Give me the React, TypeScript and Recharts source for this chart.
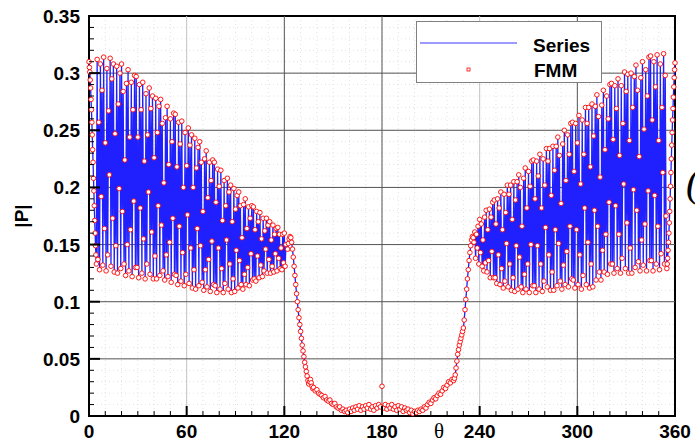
import React from "react";
import {
  ComposedChart,
  Line,
  XAxis,
  YAxis,
  CartesianGrid,
  ReferenceLine,
  ReferenceArea,
} from "recharts";

// ---------- data ----------
// column of points at the very left edge (theta close to 0)
const leftEdgeTheta = [0, 0.25, 0.5, 0.75, 1, 1.25, 1.5, 1.75, 2, 2.25, 2.5, 2.75, 3, 3.25, 3.5, 3.75, 4, 4.25, 4.5];
const leftEdgeP = [0.31, 0.305, 0.301, 0.294, 0.287, 0.277, 0.268, 0.257, 0.246, 0.233, 0.222, 0.208, 0.197, 0.184, 0.171, 0.16, 0.149, 0.141, 0.133];

// oscillating left lobe, one value every half degree from theta = 5 to 121
const leftLobeStart = 5;
const leftLobeStep = 0.5;
const leftLobeP = [
  0.312, 0.137, 0.257, 0.128, 0.308, 0.192, 0.285, 0.132, 0.314, 0.164,
  0.239, 0.127, 0.304, 0.141, 0.267, 0.211, 0.313, 0.131, 0.295, 0.173,
  0.308, 0.126, 0.247, 0.149, 0.306, 0.125, 0.273, 0.199, 0.3, 0.129,
  0.308, 0.179, 0.284, 0.133, 0.224, 0.123, 0.291, 0.15, 0.303, 0.127,
  0.244, 0.163, 0.292, 0.122, 0.268, 0.188, 0.298, 0.13, 0.297, 0.13,
  0.244, 0.121, 0.29, 0.182, 0.268, 0.125, 0.292, 0.155, 0.223, 0.12,
  0.282, 0.133, 0.246, 0.196, 0.287, 0.124, 0.269, 0.161, 0.28, 0.12,
  0.226, 0.14, 0.278, 0.12, 0.248, 0.184, 0.271, 0.123, 0.277, 0.167,
  0.256, 0.127, 0.204, 0.119, 0.261, 0.141, 0.271, 0.122, 0.22, 0.152,
  0.26, 0.117, 0.24, 0.173, 0.265, 0.124, 0.264, 0.123, 0.218, 0.115,
  0.257, 0.166, 0.238, 0.118, 0.258, 0.143, 0.2, 0.114, 0.248, 0.124,
  0.219, 0.176, 0.252, 0.116, 0.237, 0.147, 0.246, 0.112, 0.2, 0.128,
  0.243, 0.111, 0.217, 0.164, 0.235, 0.114, 0.24, 0.149, 0.222, 0.117,
  0.179, 0.11, 0.225, 0.128, 0.232, 0.113, 0.191, 0.137, 0.222, 0.109,
  0.206, 0.153, 0.224, 0.115, 0.222, 0.114, 0.187, 0.108, 0.216, 0.147,
  0.201, 0.111, 0.215, 0.129, 0.171, 0.108, 0.206, 0.116, 0.184, 0.154,
  0.208, 0.111, 0.196, 0.133, 0.202, 0.108, 0.17, 0.12, 0.199, 0.109,
  0.181, 0.145, 0.193, 0.112, 0.196, 0.136, 0.184, 0.115, 0.156, 0.111,
  0.185, 0.124, 0.19, 0.115, 0.164, 0.13, 0.183, 0.114, 0.173, 0.142,
  0.184, 0.119, 0.183, 0.12, 0.163, 0.118, 0.179, 0.14, 0.17, 0.121,
  0.178, 0.132, 0.155, 0.122, 0.173, 0.127, 0.162, 0.146, 0.173, 0.125,
  0.167, 0.137, 0.17, 0.125, 0.154, 0.131, 0.167, 0.126, 0.159, 0.142,
  0.164, 0.127, 0.165, 0.138, 0.159, 0.129, 0.147, 0.128, 0.159, 0.134,
  0.16, 0.131, 0.15,
];

// the smooth dip between the lobes
const dipTheta = [
  122, 122.5, 123, 123.5, 124, 124.5, 125, 125.5, 126, 126.5, 127, 127.5, 128, 128.5, 129, 129.5,
  130, 130.5, 131, 131.5, 132, 132.5, 133, 133.5, 134, 134.5, 135, 135.5, 136, 136.5, 137, 137.5,
  138, 139, 140, 141, 142, 143, 144, 145, 146, 147, 148, 149, 150, 151, 152, 153, 154, 155, 156,
  157, 158, 159, 160, 161, 162, 163, 164, 165, 166, 167, 168, 169, 170, 171, 172, 173, 174, 175,
  176, 177, 178, 179, 180, 181, 182, 183, 184, 185, 186, 187, 188, 189, 190, 191, 192, 193, 194,
  195, 196, 197, 198, 199, 200, 201, 202, 203, 204, 205, 206, 207, 208, 209, 210, 211, 212, 213,
  214, 215, 216, 217, 218, 219, 220, 221, 222, 223, 224, 224.5, 225, 225.5, 226, 226.5, 227, 227.5,
  228, 228.5, 229, 229.5, 230, 230.5, 231, 231.5, 232, 232.5, 233, 233.5, 234, 234.5, 235, 235.5,
  236, 236.5,
];
const dipP = [
  0.146, 0.151, 0.155, 0.157, 0.156, 0.152, 0.146, 0.139, 0.131, 0.123, 0.115, 0.107, 0.1, 0.093, 0.086, 0.08,
  0.074, 0.068, 0.062, 0.057, 0.052, 0.047, 0.043, 0.039, 0.035, 0.031, 0.028, 0.03, 0.032, 0.029, 0.026, 0.024,
  0.025, 0.022, 0.023, 0.02, 0.019, 0.018, 0.016, 0.017, 0.014, 0.013, 0.014, 0.011, 0.01, 0.011, 0.008, 0.007, 0.008, 0.005, 0.006,
  0.004, 0.005, 0.003, 0.006, 0.004, 0.007, 0.005, 0.008, 0.006, 0.009, 0.005, 0.008, 0.006, 0.009, 0.007, 0.01, 0.006, 0.008, 0.005,
  0.009, 0.007, 0.01, 0.008, 0.009, 0.007, 0.01, 0.006, 0.009, 0.007, 0.01, 0.006, 0.008, 0.005, 0.009, 0.006, 0.008, 0.004, 0.007,
  0.005, 0.006, 0.003, 0.005, 0.002, 0.004, 0.003, 0.005, 0.004, 0.006, 0.005, 0.008, 0.007, 0.01, 0.012, 0.011, 0.014, 0.016, 0.015,
  0.018, 0.02, 0.019, 0.022, 0.025, 0.024, 0.027, 0.03, 0.029, 0.032, 0.031, 0.033, 0.036, 0.042, 0.048, 0.054, 0.058, 0.062,
  0.065, 0.068, 0.071, 0.074, 0.077, 0.084, 0.093, 0.102, 0.111, 0.12, 0.128, 0.136, 0.143, 0.149, 0.154, 0.157,
  0.156, 0.152,
];

// oscillating right lobe, one value every half degree from theta = 237 to 354.5
const rightLobeStart = 237;
const rightLobeStep = 0.5;
const rightLobeP = [
  0.161, 0.138, 0.159, 0.147, 0.166, 0.133, 0.172, 0.143, 0.168, 0.131,
  0.154, 0.127, 0.174, 0.134, 0.18, 0.126, 0.163, 0.136, 0.181, 0.121,
  0.174, 0.144, 0.187, 0.121, 0.189, 0.121, 0.168, 0.116, 0.19, 0.141,
  0.182, 0.115, 0.196, 0.129, 0.163, 0.112, 0.194, 0.118, 0.178, 0.151,
  0.202, 0.113, 0.194, 0.133, 0.202, 0.11, 0.172, 0.121, 0.205, 0.109,
  0.189, 0.149, 0.205, 0.111, 0.211, 0.139, 0.2, 0.113, 0.166, 0.108,
  0.208, 0.124, 0.217, 0.111, 0.182, 0.133, 0.214, 0.108, 0.201, 0.15,
  0.223, 0.114, 0.224, 0.114, 0.19, 0.108, 0.223, 0.149, 0.21, 0.111,
  0.229, 0.133, 0.182, 0.109, 0.225, 0.118, 0.202, 0.165, 0.234, 0.113,
  0.223, 0.141, 0.234, 0.11, 0.193, 0.126, 0.236, 0.11, 0.215, 0.163,
  0.236, 0.114, 0.244, 0.151, 0.228, 0.118, 0.186, 0.111, 0.238, 0.132,
  0.25, 0.115, 0.206, 0.144, 0.246, 0.113, 0.229, 0.166, 0.256, 0.12,
  0.257, 0.119, 0.214, 0.112, 0.256, 0.163, 0.239, 0.115, 0.263, 0.141,
  0.203, 0.111, 0.259, 0.123, 0.229, 0.182, 0.27, 0.115, 0.256, 0.152,
  0.27, 0.112, 0.218, 0.133, 0.273, 0.113, 0.245, 0.18, 0.271, 0.119,
  0.281, 0.166, 0.262, 0.126, 0.209, 0.119, 0.272, 0.145, 0.285, 0.126,
  0.233, 0.159, 0.28, 0.124, 0.26, 0.187, 0.29, 0.133, 0.291, 0.133,
  0.242, 0.125, 0.289, 0.184, 0.269, 0.129, 0.295, 0.159, 0.228, 0.125,
  0.289, 0.138, 0.256, 0.203, 0.301, 0.129, 0.284, 0.169, 0.299, 0.125,
  0.241, 0.147, 0.3, 0.125, 0.27, 0.198, 0.297, 0.13, 0.307, 0.18,
  0.285, 0.135, 0.227, 0.127, 0.296, 0.154, 0.31, 0.132, 0.251, 0.168,
  0.303, 0.127, 0.28, 0.197, 0.314, 0.136, 0.315, 0.136, 0.259, 0.127,
  0.31, 0.193, 0.288, 0.133, 0.316, 0.166, 0.241, 0.128, 0.308, 0.142,
  0.27, 0.213, 0.317, 0.133, 0.298, 0.175,
];

// column of points at the right edge (theta close to 360)
const rightEdgeTheta = [355, 355.25, 355.5, 355.75, 356, 356.25, 356.5, 356.75, 357, 357.25, 357.5, 357.75, 358, 358.25, 358.5, 358.75, 359, 359.25, 359.5, 359.75, 360];
const rightEdgeP = [0.129, 0.133, 0.138, 0.145, 0.152, 0.16, 0.169, 0.179, 0.19, 0.201, 0.213, 0.225, 0.237, 0.248, 0.259, 0.269, 0.279, 0.288, 0.296, 0.303, 0.309];

// FMM points that differ from the series
const fmmOutlierTheta = [180];
const fmmOutlierP = [0.026];

// axes
const xTicks = [0, 10, 20, 30, 40, 50, 60, 70, 80, 90, 100, 110, 120, 130, 140, 150, 160, 170, 180, 190, 200, 210, 220, 230, 240, 250, 260, 270, 280, 290, 300, 310, 320, 330, 340, 350, 360];
const xMajor = [0, 60, 120, 180, 240, 300, 360];
const yTicks = [0, 0.01, 0.02, 0.03, 0.04, 0.05, 0.06, 0.07, 0.08, 0.09, 0.1, 0.11, 0.12, 0.13, 0.14, 0.15, 0.16, 0.17, 0.18, 0.19, 0.2, 0.21, 0.22, 0.23, 0.24, 0.25, 0.26, 0.27, 0.28, 0.29, 0.3, 0.31, 0.32, 0.33, 0.34, 0.35];
const yMajor = [0, 0.05, 0.1, 0.15, 0.2, 0.25, 0.3, 0.35];
const yMajorLabels = ["0", "0.05", "0.1", "0.15", "0.2", "0.25", "0.3", "0.35"];

// ---------- build table ----------
type Row = { theta: number; series: number; fmm: number };
const rows: Row[] = [];
leftEdgeTheta.forEach((t, i) => rows.push({ theta: t, series: leftEdgeP[i], fmm: leftEdgeP[i] }));
leftLobeP.forEach((p, i) => rows.push({ theta: leftLobeStart + i * leftLobeStep, series: p, fmm: p }));
dipTheta.forEach((t, i) => rows.push({ theta: t, series: dipP[i], fmm: dipP[i] }));
rightLobeP.forEach((p, i) => rows.push({ theta: rightLobeStart + i * rightLobeStep, series: p, fmm: p }));
rightEdgeTheta.forEach((t, i) => rows.push({ theta: t, series: rightEdgeP[i], fmm: rightEdgeP[i] }));
fmmOutlierTheta.forEach((t, i) => {
  const r = rows.find((row) => row.theta === t);
  if (r) r.fmm = fmmOutlierP[i];
});

// ---------- layout ----------
const W = 695;
const H = 442;
const PLOT_LEFT = 89;
const PLOT_BOTTOM = 416;
const FONT = '"Liberation Sans", Arial, Helvetica, sans-serif';

const XTick = (props: any) => {
  const { x, payload } = props;
  const v = payload.value;
  const major = xMajor.includes(v);
  return (
    <g>
      <line x1={x} x2={x} y1={PLOT_BOTTOM} y2={major ? PLOT_BOTTOM - 10 : PLOT_BOTTOM - 5} stroke="#000" strokeWidth={major ? 2 : 1} />
      {major && (
        <text x={x} y={438} textAnchor="middle" fontFamily={FONT} fontWeight="bold" fontSize={19} fill="#000">
          {v}
        </text>
      )}
    </g>
  );
};

const YTick = (props: any) => {
  const { y, payload } = props;
  const v = payload.value;
  const mi = yMajor.findIndex((m) => Math.abs(m - v) < 1e-9);
  const major = mi >= 0;
  return (
    <g>
      <line x1={PLOT_LEFT} x2={major ? PLOT_LEFT + 11 : PLOT_LEFT + 5} y1={y} y2={y} stroke="#000" strokeWidth={major ? 2 : 1} />
      {major && (
        <text x={80} y={y} dy={7} textAnchor="end" fontFamily={FONT} fontWeight="bold" fontSize={19} fill="#000">
          {yMajorLabels[mi]}
        </text>
      )}
    </g>
  );
};

const gridX = [60, 120, 180, 240, 300];
const gridXColor = ["#c4c4c4", "#555", "#555", "#c4c4c4", "#555"];
const gridY = [0.05, 0.1, 0.15, 0.2, 0.25, 0.3];

export default function App() {
  return (
    <div style={{ position: "absolute", left: 0, top: 0, width: W, height: H, background: "#fff" }}>
      <ComposedChart width={W} height={H} data={rows} margin={{ top: 16, right: 20, bottom: 0, left: 0 }}>
        <CartesianGrid stroke="#e2e2e2" strokeDasharray="1 3" />
        {gridX.map((g, i) => (
          <ReferenceLine key={"gx" + g} x={g} stroke={gridXColor[i]} strokeWidth={1} />
        ))}
        {gridY.map((g) => (
          <ReferenceLine key={"gy" + g} y={g} stroke="#555" strokeWidth={1} />
        ))}
        <XAxis
          type="number"
          dataKey="theta"
          domain={[0, 360]}
          ticks={xTicks}
          interval={0}
          height={26}
          axisLine={false}
          tickLine={false}
          tick={<XTick />}
        />
        <YAxis
          type="number"
          domain={[0, 0.35]}
          ticks={yTicks}
          interval={0}
          width={89}
          axisLine={false}
          tickLine={false}
          tick={<YTick />}
        />
        <ReferenceArea x1={0} x2={360} y1={0} y2={0.35} fill="none" fillOpacity={0} stroke="#000" strokeWidth={2} ifOverflow="visible" />
        <Line
          type="linear"
          dataKey="series"
          stroke="#2020ff"
          strokeWidth={1.3}
          dot={false}
          activeDot={false}
          isAnimationActive={false}
        />
        <Line
          type="linear"
          dataKey="fmm"
          stroke="none"
          dot={{ r: 2.3, stroke: "#ff0000", strokeWidth: 0.9, fill: "#ffffff" }}
          activeDot={false}
          isAnimationActive={false}
        />
      </ComposedChart>

      {/* legend */}
      <div
        style={{
          position: "absolute",
          left: 416,
          top: 21,
          width: 184,
          height: 60,
          border: "1px solid #808080",
          background: "#fff",
        }}
      >
        <svg width={184} height={60} style={{ display: "block" }}>
          <line x1={3} x2={100} y1={21} y2={21} stroke="#9a9aff" strokeWidth={2} />
          <text x={116} y={30} fontFamily={FONT} fontWeight="bold" fontSize={19} fill="#000">
            Series
          </text>
          <rect x={50} y={46} width={3} height={3} fill="#fff" stroke="#ff0000" strokeWidth={0.8} />
          <text x={117} y={55} fontFamily={FONT} fontWeight="bold" fontSize={19} fill="#000">
            FMM
          </text>
        </svg>
      </div>

      {/* axis titles */}
      <svg width={W} height={H} style={{ position: "absolute", left: 0, top: 0, pointerEvents: "none" }}>
        <text
          x={21}
          y={216}
          transform="rotate(-90 21 216)"
          textAnchor="middle"
          dy={7}
          fontFamily={FONT}
          fontWeight="bold"
          fontSize={19}
          fill="#000"
        >
          |P|
        </text>
        <text x={439} y={438} textAnchor="middle" fontFamily='"Liberation Serif", "DejaVu Serif", serif' fontSize={21} fill="#000">
          θ
        </text>
        <text x={686} y={196} fontFamily='"Liberation Serif", serif' fontStyle="italic" fontSize={40} fill="#000">
          (
        </text>
      </svg>
    </div>
  );
}
